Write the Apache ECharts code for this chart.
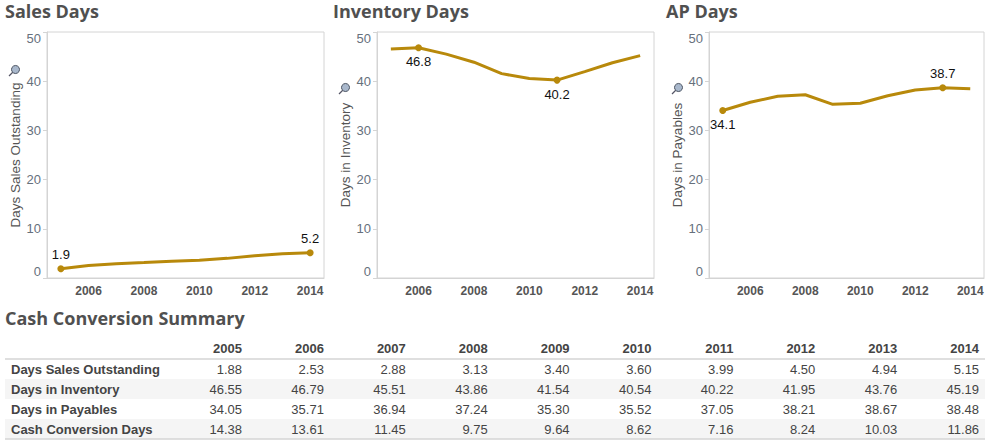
<!DOCTYPE html>
<html>
<head>
<meta charset="utf-8">
<title>Cash Conversion</title>
<script src="https://cdn.jsdelivr.net/npm/echarts@6/dist/echarts.min.js"></script>
<style>
  html, body { margin: 0; padding: 0; background: #fff; }
  #chart { width: 993px; height: 446px; }
</style>
</head>
<body>
<div id="chart"></div>
<script>
var years = ['2005', '2006', '2007', '2008', '2009', '2010', '2011', '2012', '2013', '2014'];
var salesDays = [1.88, 2.53, 2.88, 3.13, 3.40, 3.60, 3.99, 4.50, 4.94, 5.15];
var inventoryDays = [46.55, 46.79, 45.51, 43.86, 41.54, 40.54, 40.22, 41.95, 43.76, 45.19];
var payableDays = [34.05, 35.71, 36.94, 37.24, 35.30, 35.52, 37.05, 38.21, 38.67, 38.48];
var cashDays = [14.38, 13.61, 11.45, 9.75, 9.64, 8.62, 7.16, 8.24, 10.03, 11.86];

var rowNames = ['Days Sales Outstanding', 'Days in Inventory', 'Days in Payables', 'Cash Conversion Days'];
var rows = [salesDays, inventoryDays, payableDays, cashDays];

var LINE_COLOR = '#b8890b';
var GRAY = '#d4d4d4';
var TITLE_FONT = '"Open Sans", "DejaVu Sans", sans-serif';
var FONT = '"Liberation Sans", Arial, sans-serif';

// panels: title, axis title, values, where the min / max labels go
var panels = [
  { title: 'Sales Days', axisName: 'Days Sales Outstanding', values: salesDays, left: 47, width: 277, minPos: 'top', maxPos: 'top' },
  { title: 'Inventory Days', axisName: 'Days in Inventory', values: inventoryDays, left: 377, width: 277, minPos: 'bottom', maxPos: 'bottom' },
  { title: 'AP Days', axisName: 'Days in Payables', values: payableDays, left: 709, width: 275, minPos: 'bottom', maxPos: 'top' }
];

// round half up (34.05 -> 34.1), toFixed alone gets it wrong
function oneDecimal(v) {
  return (Math.round(v * 10 + 1e-6) / 10).toFixed(1);
}

function buildSeriesData(values, minPos, maxPos) {
  var minI = values.indexOf(Math.min.apply(null, values));
  var maxI = values.indexOf(Math.max.apply(null, values));
  return values.map(function (v, i) {
    var item = { value: v, symbolSize: 0 };
    if (i === minI || i === maxI) {
      item.symbolSize = 7;
      item.label = {
        show: true,
        position: i === minI ? minPos : maxPos,
        distance: 4,
        formatter: function (p) { return oneDecimal(p.value); }
      };
    }
    return item;
  });
}

function buildTable() {
  var els = [];
  var top = 359, rowH = 20, colRight0 = 242, colStep = 81.9;
  years.forEach(function (y, j) {
    els.push({
      type: 'text', x: colRight0 + j * colStep, y: 348,
      style: { text: y, align: 'right', verticalAlign: 'middle', font: 'bold 13px ' + FONT, fill: '#444' }
    });
  });
  rows.forEach(function (vals, i) {
    var y0 = top + i * rowH;
    if (i % 2 === 1) {
      els.push({ type: 'rect', shape: { x: 5, y: y0, width: 980, height: rowH }, style: { fill: '#f5f5f5' }, z: -1 });
    }
    els.push({
      type: 'text', x: 11, y: y0 + rowH / 2,
      style: { text: rowNames[i], verticalAlign: 'middle', font: 'bold 13px ' + FONT, fill: '#444' }
    });
    vals.forEach(function (v, j) {
      els.push({
        type: 'text', x: colRight0 + j * colStep, y: y0 + rowH / 2,
        style: { text: v.toFixed(2), align: 'right', verticalAlign: 'middle', font: '13px ' + FONT, fill: '#444' }
      });
    });
  });
  els.push({ type: 'line', shape: { x1: 5, y1: top, x2: 985, y2: top }, style: { stroke: GRAY, lineWidth: 1.5 } });
  els.push({ type: 'line', shape: { x1: 5, y1: top + 4 * rowH, x2: 985, y2: top + 4 * rowH }, style: { stroke: GRAY, lineWidth: 1.5 } });
  return els;
}

function pinIcon(x, y) {
  return {
    type: 'group', x: x, y: y,
    children: [
      { type: 'line', shape: { x1: -5, y1: 5, x2: 0, y2: 0 }, style: { stroke: '#556', lineWidth: 1.2 } },
      { type: 'circle', shape: { cx: 1.5, cy: -1.5, r: 4 }, style: { fill: '#a9b8cc', stroke: '#4a5260', lineWidth: 1 } }
    ]
  };
}

function RenderChart() {
  var dom = document.getElementById('chart');
  var myChart = echarts.init(dom, null, { renderer: 'svg' });

  var titleStyle = { fontFamily: TITLE_FONT, fontSize: 18, fontWeight: 'bold', color: '#505050' };
  var titles = panels.map(function (p, k) {
    return { text: p.title, left: [5, 333, 666][k], top: 2, padding: 0, textStyle: titleStyle };
  });
  titles.push({ text: 'Cash Conversion Summary', left: 5, top: 309, padding: 0, textStyle: titleStyle });

  var option = {
    animation: false,
    title: titles,
    grid: panels.map(function (p) {
      return { left: p.left, top: 32, width: p.width, height: 246, show: true, borderColor: GRAY, borderWidth: 1 };
    }),
    xAxis: panels.map(function (p, k) {
      return {
        type: 'category', gridIndex: k, data: years, boundaryGap: true,
        axisLine: { lineStyle: { color: GRAY } },
        axisTick: { show: false },
        axisLabel: {
          interval: function (i, v) { return Number(v) % 2 === 0; },
          margin: 7, fontFamily: FONT, fontSize: 12, fontWeight: 'bold', color: '#555'
        }
      };
    }),
    yAxis: panels.map(function (p, k) {
      return {
        type: 'value', gridIndex: k, min: 0, max: 50, interval: 10,
        name: p.axisName, nameLocation: 'middle', nameGap: 24,
        nameTextStyle: { fontFamily: FONT, fontSize: 13.5, color: '#555' },
        axisLine: { show: true, lineStyle: { color: GRAY } },
        axisTick: { show: true, length: 4, lineStyle: { color: GRAY } },
        splitLine: { show: false },
        axisLabel: {
          margin: 6, fontFamily: FONT, fontSize: 13, color: '#66707c',
          verticalAlignMinLabel: 'bottom', verticalAlignMaxLabel: 'top'
        }
      };
    }),
    series: panels.map(function (p, k) {
      return {
        type: 'line', xAxisIndex: k, yAxisIndex: k,
        data: buildSeriesData(p.values, p.minPos, p.maxPos),
        symbol: 'circle',
        lineStyle: { color: LINE_COLOR, width: 3 },
        itemStyle: { color: LINE_COLOR },
        label: { color: '#111', fontFamily: FONT, fontSize: 13 }
      };
    }),
    graphic: buildTable().concat([pinIcon(14, 71), pinIcon(344, 89), pinIcon(677, 89)])
  };

  if (option && typeof option === 'object') {
    myChart.setOption(option);
  }
}

window.onload = RenderChart;
</script>
</body>
</html>
